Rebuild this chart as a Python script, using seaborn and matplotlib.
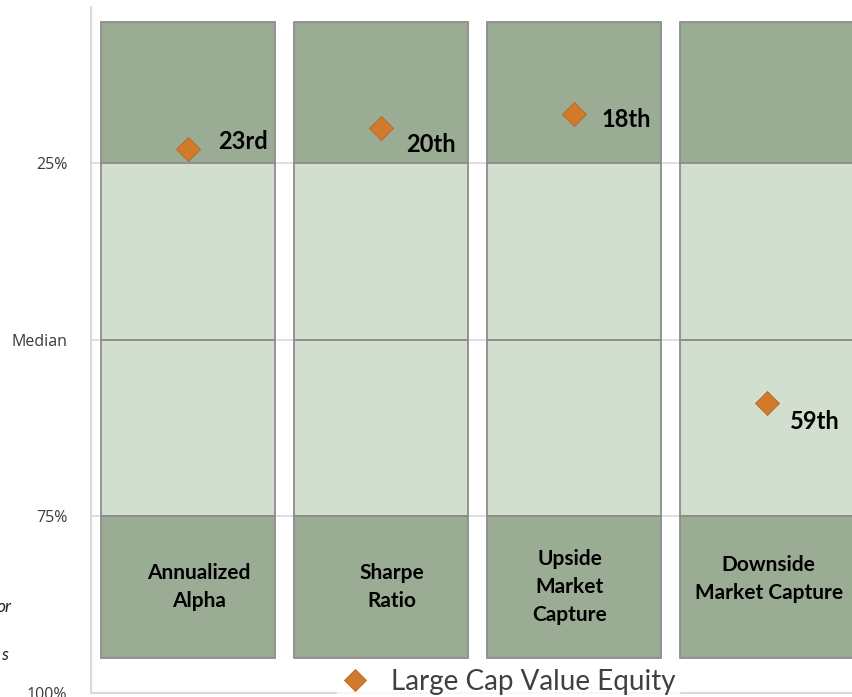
import matplotlib
matplotlib.use("Agg")
import matplotlib.pyplot as plt
from matplotlib.lines import Line2D
import seaborn as sns
import pandas as pd

# ---- data ----
categories = ["Annualized\nAlpha", "Sharpe\nRatio", "Upside\nMarket\nCapture", "Downside\nMarket Capture"]
ranks = [23, 20, 18, 59]
rank_labels = ["23rd", "20th", "18th", "59th"]
band_edges = [5, 25, 50, 75, 95]
band_colors = ["#9aac94", "#d2dece", "#d2dece", "#9aac94"]
ytick_vals = [25, 50, 75, 100]
ytick_labels = ["25%", "Median", "75%", "100%"]
series_name = "Large Cap Value Equity"

# label offsets in points (style)
rank_offsets = [(22, 5), (18, -12), (20, -4), (16, -13)]
cat_offsets = [8, 8, -3, 1]

sns.set_theme(style="white")
plt.rcParams["font.family"] = ["Lato", "DejaVu Sans"]

fig = plt.figure(figsize=(8.52, 6.97), dpi=100)
ax = fig.add_axes([91 / 852, 1 - 693 / 697, 773 / 852, 686 / 697])

for ax_spine in ["top", "right"]:
    ax.spines[ax_spine].set_visible(False)
for s in ["left", "bottom"]:
    ax.spines[s].set_color("#d9d9d9")
    ax.spines[s].set_linewidth(1.5)

# gridlines behind
for v in ytick_vals[:-1]:
    ax.axhline(v, color="#d9d9d9", lw=1.2, zorder=0)

for i in range(len(band_edges) - 1):
    lo, hi = band_edges[i], band_edges[i + 1]
    df = pd.DataFrame({"cat": categories, "h": [hi - lo] * len(categories)})
    sns.barplot(data=df, x="cat", y="h", ax=ax, color=band_colors[i],
                width=0.9, bottom=lo, edgecolor="#8c8c8c", linewidth=1.3,
                saturation=1, zorder=2)

pts = pd.DataFrame({"cat": categories, "rank": ranks})
sns.scatterplot(data=pts, x="cat", y="rank", ax=ax, marker="D", s=150,
                color="#d07a2b", edgecolor="#b8651f", linewidth=0.6,
                zorder=5, legend=False)

for i, (r, lab) in enumerate(zip(ranks, rank_labels)):
    ax.annotate(lab, (i, r), xytext=rank_offsets[i], textcoords="offset points",
                ha="left", va="center", fontsize=17, fontweight="bold",
                color="black", zorder=6)

for i, c in enumerate(categories):
    y = 85 if i < 3 else 83.8
    ax.annotate(c, (i, y), xytext=(cat_offsets[i], 0), textcoords="offset points",
                ha="center", va="center", fontsize=15, fontweight="bold",
                color="black", linespacing=1.5, zorder=6)

ax.set_xlim(-0.5, 3.5)
ax.set_ylim(100, 2.92)
ax.set_xlabel("")
ax.set_ylabel("")
ax.set_xticks([])
ax.set_yticks(ytick_vals)
ax.set_yticklabels(ytick_labels)
ax.tick_params(axis="y", length=0, pad=17, labelsize=11.5, labelcolor="#3a3a3a")
for t in ax.get_yticklabels():
    t.set_fontfamily(["Open Sans", "DejaVu Sans"])

handle = Line2D([], [], marker="D", linestyle="none", markersize=11,
                markerfacecolor="#d07a2b", markeredgecolor="#b8651f",
                markeredgewidth=0.6)
leg = fig.legend([handle], [series_name], loc="center",
                 bbox_to_anchor=(508 / 852, 1 - 682 / 697), frameon=True,
                 fontsize=20, handletextpad=0.8, borderpad=0.15,
                 handlelength=1.0)
leg.get_frame().set_facecolor("white")
leg.get_frame().set_edgecolor("white")
for t in leg.get_texts():
    t.set_color("#404040")

fig.text(11 / 852, 1 - 607 / 697, "or", ha="right", va="center",
         fontsize=12.5, style="italic", color="#222222")
fig.text(8 / 852, 1 - 655 / 697, "s", ha="right", va="center",
         fontsize=12.5, style="italic", color="#222222")

fig.savefig("out.png", dpi=100)
